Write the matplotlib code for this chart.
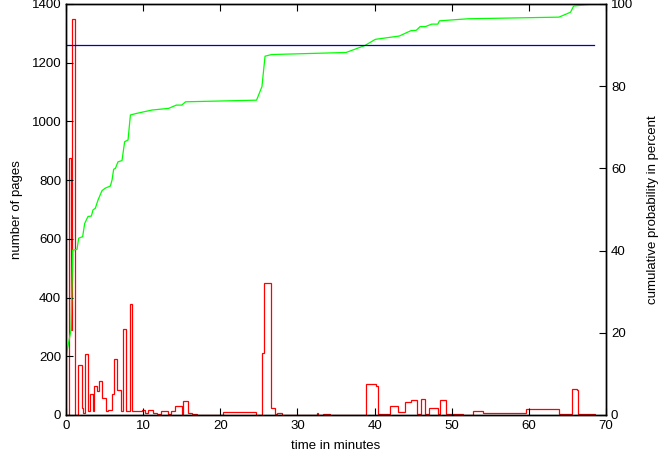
import matplotlib
matplotlib.use('Agg')
from matplotlib import pyplot as plt

plt.rcParams['font.family'] = ['Liberation Sans', 'DejaVu Sans']

# histogram of pages per time bin (bin edges in minutes)
bin_edges = [0, 0.35, 0.65, 0.78, 1.15, 1.6, 2.04, 2.24, 2.46, 2.81, 3.11,
             3.46, 3.67, 3.98, 4.28, 4.63, 5.19, 5.49, 5.93, 6.24, 6.58,
             7.09, 7.43, 7.78, 8.3, 8.6, 9.86, 10.18, 10.64, 11.28, 11.76,
             12.32, 13.19, 13.58, 14.14, 15.01, 15.21, 15.86, 16.3, 16.95, 20.4,
             24.64, 25.38, 25.68, 26.55, 27.11, 27.33, 27.98, 32.52, 32.72, 33.37,
             34.24, 38.87, 40.17, 40.43, 42.02, 43.1, 43.88, 44.75, 45.49, 46.0,
             46.56, 47.08, 48.21, 48.42, 49.25, 50.06, 51.4, 52.7, 54.0, 59.62,
             63.94, 65.59, 66.24, 66.37, 67.41, 68.52]
pages = [0, 875, 290, 1350, 0, 169, 24, 7, 209, 15,
         71, 15, 99, 83, 117, 57, 15, 16, 71, 191,
         85, 15, 294, 15, 377, 13, 17, 6, 18, 8,
         2, 12, 2, 12, 29, 2, 48, 8, 2, 0,
         9, 0, 211, 450, 23, 3, 7, 1, 6, 1,
         4, 1, 104, 100, 3, 31, 9, 43, 51, 3,
         56, 3, 25, 3, 50, 3, 2, 0, 14, 6,
         19, 2, 88, 85, 5, 3]

# cumulative probability (percent)
cum_time = [0, 0.65, 0.87, 1.43, 1.64, 2.16, 2.42, 2.85, 3.29, 3.5,
            3.8, 4.15, 4.67, 5.1, 5.75, 5.97, 6.18, 6.4, 6.74, 7.26,
            7.6, 8.04, 8.35, 9.2, 11.15, 13.3, 14.3, 15.0, 15.5, 24.7,
            25.4, 25.8, 26.65, 36.3, 38.75, 40.1, 43.2, 44.7, 45.4, 45.9,
            46.6, 47.4, 48.2, 48.4, 52.1, 63.9, 65.4, 65.8, 68.4]
cum_pct = [14.2, 20.7, 40.1, 40.3, 43.0, 43.4, 46.6, 48.3, 48.4, 49.9,
           50.3, 52.3, 54.6, 55.2, 55.7, 57.2, 59.8, 60.0, 61.6, 61.9,
           66.5, 66.9, 73.0, 73.4, 74.2, 74.6, 75.4, 75.4, 76.2, 76.6,
           79.9, 87.3, 87.7, 88.2, 89.9, 91.4, 92.2, 93.5, 93.6, 94.5,
           94.5, 95.1, 95.1, 95.9, 96.4, 96.8, 98.0, 99.5, 100.0]

threshold = 90
t_last = 68.5

fig = plt.figure(figsize=(6.58, 4.58), dpi=100)
ax = fig.add_axes([0.1003, 0.0939, 0.8207, 0.8974])
ax2 = ax.twinx()

ax.stairs(pages, bin_edges, color='red', linewidth=0.9)
ax2.plot(cum_time, cum_pct, color='#00ff00', linewidth=0.9)
ax2.plot([0, t_last], [threshold, threshold], color='#0000cc', linewidth=0.9)

ax.set_xlim(0, 70)
ax.set_ylim(0, 1400)
ax2.set_ylim(0, 100)
ax.set_xticks(range(0, 71, 10))
ax.set_yticks(range(0, 1401, 200))
ax2.set_yticks(range(0, 101, 20))

fs = 9.5
ax.tick_params(axis='x', direction='in', length=5, top=True, labelsize=fs, width=0.8)
ax.tick_params(axis='y', direction='in', length=5, labelsize=fs, width=0.8)
ax2.tick_params(axis='y', direction='in', length=5, labelsize=fs, width=0.8)
for a in (ax, ax2):
    for s in a.spines.values():
        s.set_linewidth(1.0)

ax.set_xlabel('time in minutes', fontsize=fs, labelpad=6)
ax.set_ylabel('number of pages', fontsize=fs, labelpad=6)
ax2.set_ylabel('cumulative probability in percent', fontsize=fs, labelpad=10)

fig.savefig('out.png', dpi=100)
